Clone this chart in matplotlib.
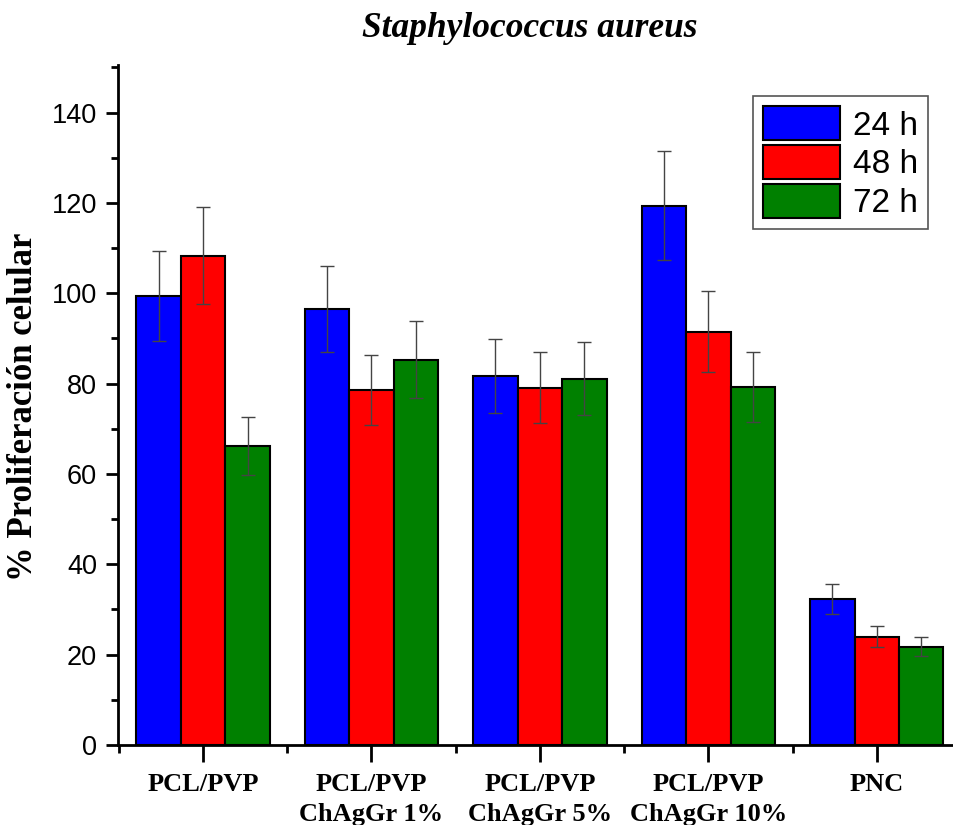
import matplotlib.pyplot as plt
import numpy as np
from matplotlib.ticker import MultipleLocator, FixedLocator

groups = ["PCL/PVP", "PCL/PVP\nChAgGr 1%", "PCL/PVP\nChAgGr 5%", "PCL/PVP\nChAgGr 10%", "PNC"]
series = ["24 h", "48 h", "72 h"]
colors = ["#0000ff", "#ff0000", "#008000"]

means_24 = [99.4, 96.6, 81.7, 119.4, 32.3]
means_48 = [108.3, 78.6, 79.1, 91.5, 24.0]
means_72 = [66.2, 85.3, 81.1, 79.3, 21.8]
err_24 = [9.9, 9.5, 8.2, 12.0, 3.3]
err_48 = [10.7, 7.8, 7.9, 9.0, 2.4]
err_72 = [6.5, 8.5, 8.1, 7.8, 2.1]

means = [means_24, means_48, means_72]
errs = [err_24, err_48, err_72]

fig = plt.figure(figsize=(9.54, 8.25), dpi=100)
ax = fig.add_axes([0.1237, 0.097, 0.8836, 0.824])

x = np.arange(len(groups))
w = 0.264
for i in range(3):
    ax.bar(x + (i - 1) * w, means[i], w, color=colors[i], edgecolor="black",
           linewidth=1.5, label=series[i], zorder=2)
    ax.errorbar(x + (i - 1) * w, means[i], yerr=errs[i], fmt="none",
                ecolor="#444444", elinewidth=1.0, capsize=5, capthick=1.0, zorder=3)

ax.set_xlim(-0.505, 4.5)
ax.set_ylim(0, 150.5)

ax.spines["top"].set_visible(False)
ax.spines["right"].set_visible(False)
ax.spines["left"].set_linewidth(2)
ax.spines["bottom"].set_linewidth(2)

ax.yaxis.set_major_locator(MultipleLocator(20))
ax.yaxis.set_minor_locator(MultipleLocator(10))
ax.set_yticks(np.arange(0, 141, 20))
ax.tick_params(axis="y", which="major", direction="out", length=9, width=2, labelsize=19.5, pad=6)
ax.tick_params(axis="y", which="minor", direction="out", length=5, width=2)
for lab in ax.get_yticklabels():
    lab.set_fontfamily("Liberation Sans")

ax.set_xticks(x)
ax.set_xticklabels(groups, fontfamily="Liberation Serif", fontweight="bold",
                   fontsize=19, linespacing=1.4)
ax.xaxis.set_minor_locator(FixedLocator(np.arange(-0.5, 4.0, 1.0)))
ax.tick_params(axis="x", which="major", direction="out", length=12, width=2, pad=8)
ax.tick_params(axis="x", which="minor", direction="out", length=6, width=2)

ax.set_ylabel("% Proliferación celular", fontfamily="Liberation Serif",
              fontweight="bold", fontsize=25)
ax.yaxis.set_label_coords(-0.093, 0.497)
fig.text(0.555, 0.966, "Staphylococcus aureus", fontfamily="Liberation Serif",
         fontweight="bold", fontstyle="italic", fontsize=25.5, ha="center", va="center")

leg = ax.legend(loc="upper right", bbox_to_anchor=(0.969, 0.964), prop={"family": "Liberation Sans", "size": 24},
                handlelength=2.3, handleheight=1.2, labelspacing=0.1, borderpad=0.3,
                handletextpad=0.4, borderaxespad=0.2, fancybox=False, framealpha=1)
leg.get_frame().set_edgecolor("#555555")
leg.get_frame().set_linewidth(1.2)

fig.savefig("out.png", dpi=100)
